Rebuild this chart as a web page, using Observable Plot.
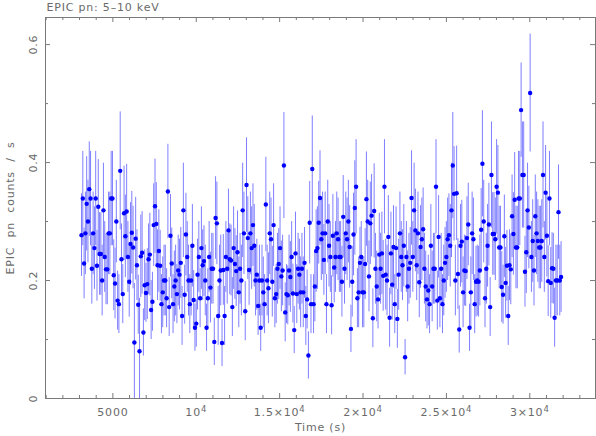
<!DOCTYPE html>
<html><head><meta charset="utf-8">
<script src="https://cdn.jsdelivr.net/npm/d3@7"></script>
<script src="https://cdn.jsdelivr.net/npm/@observablehq/plot@0.6"></script>
<style>html,body{margin:0;padding:0;background:#fff}#chart svg{display:block}</style>
</head><body><div id="chart"></div>
<script>
const titleText = "EPIC pn: 5–10 keV";
const xLabel = "Time (s)";
const yLabel = "EPIC pn counts / s";
const binStart = 3120;   // s, time of first bin
const binSize = 77.3;    // s, bin width

const rate = [
0.277,0.339,0.229,0.28,0.33,0.30,0.355,0.339,0.22,0.28,
0.255,0.339,0.225,0.325,0.245,0.245,0.20,0.319,0.24,0.219,
0.219,0.28,0.28,0.339,0.339,0.209,0.195,0.30,0.166,0.16,
0.386,0.236,0.177,0.314,0.275,0.317,0.24,0.198,0.262,0.281,
0.256,0.095,0.271,0.226,0.159,0.08,0.241,0.247,0.112,0.192,
0.179,0.194,0.236,0.244,0.15,0.164,0.294,0.326,0.296,0.226,
0.25,0.225,0.16,0.18,0.20,0.20,0.17,0.351,0.155,0.276,
0.229,0.16,0.19,0.20,0.177,0.217,0.21,0.23,0.14,0.319,
0.176,0.278,0.24,0.20,0.16,0.20,0.259,0.167,0.12,0.127,
0.21,0.24,0.17,0.255,0.226,0.233,0.20,0.12,0.17,0.24,
0.188,0.22,0.22,
0.096,0.306,0.297,0.14,0.20,0.217,0.094,0.218,0.14,0.24,
0.22,0.285,0.236,0.234,0.155,0.255,0.228,0.216,0.248,0.18,
0.22,0.20,0.319,0.28,0.148,0.362,0.272,0.218,0.28,0.255,
0.294,0.259,0.20,0.21,0.157,0.20,0.12,0.20,0.18,0.16,
0.329,0.20,0.187,0.28,0.27,0.198,0.294,0.17,0.177,0.22,
0.228,0.255,0.207,0.217,
0.395,0.146,0.177,0.175,0.217,0.206,0.24,0.178,0.116,0.246,
0.177,0.22,0.21,0.18,0.22,0.18,0.23,0.14,0.168,0.073,
0.298,0.16,0.389,0.16,0.19,0.25,0.255,0.298,0.34,0.27,
0.28,0.235,0.28,0.16,0.30,0.259,0.24,0.158,0.276,0.222,
0.24,0.28,0.27,0.24,0.24,0.198,0.308,0.22,0.28,0.27,
0.30,0.257,
0.118,0.198,0.278,0.323,0.359,0.17,0.18,0.23,0.24,0.18,
0.18,0.228,0.338,0.30,0.207,0.297,0.31,0.136,0.318,0.22,
0.19,0.168,0.244,0.22,0.246,0.208,0.359,0.21,0.20,0.274,
0.137,0.246,0.193,0.257,0.16,0.255,0.135,0.21,0.28,0.24,
0.226,0.259,0.07,0.24,0.19,0.22,0.23,0.34,0.24,0.319,
0.285,0.226,0.28,
0.197,0.257,0.27,0.287,0.22,0.19,0.168,0.183,0.16,0.259,
0.19,0.22,0.22,0.359,0.166,0.274,0.17,0.22,0.16,0.20,
0.23,0.24,0.27,0.277,0.259,0.319,0.395,0.347,0.20,0.348,
0.211,0.117,0.259,0.266,0.18,0.217,0.216,0.272,0.295,0.12,
0.18,0.28,0.27,0.16,0.198,0.20,0.198,0.217,0.286,0.398,
0.30,0.17,0.22,
0.259,0.295,0.155,0.379,0.279,0.279,0.27,0.359,0.349,0.256,
0.256,0.189,0.176,0.275,0.196,0.225,0.14,0.226,0.219,0.309,
0.279,0.337,0.256,0.256,0.339,0.339,0.489,0.379,0.379,0.215,
0.248,0.319,0.29,0.518,0.24,0.267,0.217,0.309,0.28,0.267,
0.256,0.256,0.267,0.379,0.24,0.349,0.276,0.199,0.339,0.196,
0.221,0.22,0.137,0.20,0.20,0.316,0.20,0.206
];

const rateErr = [
0.07,0.08,0.06,0.07,0.08,0.07,0.08,0.08,0.06,0.07,
0.07,0.08,0.06,0.08,0.07,0.07,0.06,0.08,0.06,0.06,
0.06,0.07,0.07,0.08,0.08,0.06,0.06,0.07,0.05,0.05,
0.10,0.06,0.05,0.08,0.07,0.08,0.06,0.06,0.07,0.07,
0.07,0.10,0.07,0.06,0.05,0.09,0.07,0.07,0.04,0.06,
0.05,0.06,0.06,0.07,0.05,0.05,0.07,0.08,0.07,0.06,
0.07,0.06,0.05,0.06,0.06,0.06,0.05,0.08,0.05,0.07,
0.06,0.05,0.06,0.06,0.05,0.06,0.06,0.06,0.05,0.08,
0.05,0.07,0.06,0.06,0.05,0.06,0.07,0.05,0.04,0.04,
0.06,0.06,0.05,0.07,0.06,0.06,0.06,0.04,0.05,0.06,
0.06,0.06,0.06,
0.04,0.07,0.07,0.05,0.06,0.06,0.04,0.06,0.05,0.06,
0.06,0.07,0.06,0.06,0.05,0.07,0.06,0.06,0.07,0.06,
0.06,0.06,0.08,0.07,0.05,0.08,0.07,0.06,0.07,0.07,
0.07,0.07,0.06,0.06,0.05,0.06,0.04,0.06,0.06,0.05,
0.08,0.06,0.06,0.07,0.07,0.06,0.07,0.05,0.05,0.06,
0.06,0.07,0.06,0.06,
0.09,0.05,0.05,0.05,0.06,0.06,0.06,0.05,0.04,0.07,
0.05,0.06,0.06,0.06,0.06,0.06,0.06,0.05,0.05,0.04,
0.07,0.05,0.09,0.05,0.06,0.07,0.07,0.07,0.08,0.07,
0.07,0.06,0.07,0.05,0.07,0.07,0.06,0.05,0.07,0.06,
0.06,0.07,0.07,0.06,0.06,0.06,0.07,0.06,0.07,0.07,
0.07,0.07,
0.04,0.06,0.07,0.08,0.08,0.05,0.06,0.06,0.06,0.06,
0.06,0.06,0.08,0.07,0.06,0.07,0.07,0.05,0.08,0.06,
0.06,0.05,0.07,0.06,0.07,0.06,0.08,0.06,0.06,0.07,
0.05,0.07,0.06,0.07,0.05,0.07,0.05,0.06,0.07,0.06,
0.06,0.07,0.03,0.06,0.06,0.06,0.06,0.08,0.06,0.08,
0.07,0.06,0.07,
0.06,0.07,0.07,0.07,0.06,0.06,0.05,0.06,0.05,0.07,
0.06,0.06,0.06,0.08,0.05,0.07,0.05,0.06,0.05,0.06,
0.06,0.06,0.07,0.07,0.07,0.08,0.09,0.08,0.06,0.08,
0.06,0.04,0.07,0.07,0.06,0.06,0.06,0.07,0.07,0.04,
0.06,0.07,0.07,0.05,0.06,0.06,0.06,0.06,0.07,0.09,
0.07,0.05,0.06,
0.07,0.07,0.05,0.09,0.07,0.07,0.07,0.08,0.08,0.07,
0.07,0.06,0.05,0.07,0.06,0.06,0.05,0.06,0.06,0.07,
0.07,0.08,0.07,0.07,0.08,0.08,0.08,0.09,0.09,0.06,
0.07,0.08,0.07,0.10,0.06,0.07,0.06,0.07,0.07,0.07,
0.07,0.07,0.07,0.09,0.06,0.08,0.07,0.06,0.08,0.06,
0.06,0.06,0.05,0.06,0.06,0.08,0.06,0.06
];

const xMajorTicks = [5000, 10000, 15000, 20000, 25000, 30000];
const xTickMantissa = ["5000", "10", "1.5×10", "2×10", "2.5×10", "3×10"];
const xTickExponent = ["", "4", "4", "4", "4", "4"];
const xMinorTicks = [1000,2000,3000,4000,6000,7000,8000,9000,11000,12000,13000,14000,16000,17000,18000,19000,21000,22000,23000,24000,26000,27000,28000,29000,31000,32000,33000];
const yMajorTicks = [0, 0.2, 0.4, 0.6];
const yTickLabels = ["0", "0.2", "0.4", "0.6"];
const yMinorTicks = [0.1, 0.3, 0.5];
const xDomain = [960, 33940];
const yDomain = [0, 0.646];

const rows = rate.map((v, i) => ({t: binStart + i * binSize, v, e: rateErr[i]}));

const W = 596, H = 436, mL = 45, mR = 1, mT = 17, mB = 38;
const iW = W - mL - mR, iH = H - mT - mB;
const axisColor = "#7a7a7a";
const textColor = "#6a6a6a";
const majorLen = 5, minorLen = 3;

const chart = Plot.plot({
  width: W, height: H,
  marginLeft: mL, marginRight: mR, marginTop: mT, marginBottom: mB,
  x: {domain: xDomain, axis: null},
  y: {domain: yDomain, axis: null},
  style: {fontFamily: "DejaVu Sans", fontSize: "11px", color: textColor, background: "#fff", overflow: "visible", letterSpacing: "0.8px"},
  marks: [
    Plot.ruleX(rows, {x: "t", y1: d => d.v - d.e, y2: d => d.v + d.e, stroke: "#7f7fff", strokeWidth: 1, clip: true}),
    Plot.dot(rows, {x: "t", y: "v", r: 2.2, fill: "#0000ff", stroke: null, clip: true}),
    Plot.frame({stroke: axisColor}),
    Plot.tickX(xMajorTicks, {x: d => d, insetTop: iH - majorLen, stroke: axisColor}),
    Plot.tickX(xMajorTicks, {x: d => d, insetBottom: iH - majorLen, stroke: axisColor}),
    Plot.tickX(xMinorTicks, {x: d => d, insetTop: iH - minorLen, stroke: axisColor}),
    Plot.tickX(xMinorTicks, {x: d => d, insetBottom: iH - minorLen, stroke: axisColor}),
    Plot.tickY(yMajorTicks, {y: d => d, insetRight: iW - majorLen, stroke: axisColor}),
    Plot.tickY(yMajorTicks, {y: d => d, insetLeft: iW - majorLen, stroke: axisColor}),
    Plot.tickY(yMinorTicks, {y: d => d, insetRight: iW - minorLen, stroke: axisColor}),
    Plot.tickY(yMinorTicks, {y: d => d, insetLeft: iW - minorLen, stroke: axisColor}),
    Plot.text(xMajorTicks, {x: d => d, text: (d, i) => xTickMantissa[i] + (xTickExponent[i] ? "^" + xTickExponent[i] : ""), frameAnchor: "bottom", dy: 14, lineAnchor: "middle", fill: textColor, className: "xticklabel"}),
    Plot.text(yMajorTicks, {y: d => d, text: (d, i) => yTickLabels[i], frameAnchor: "left", dx: -12, rotate: -90, textAnchor: "middle", lineAnchor: "middle", fill: textColor}),
    Plot.text([xLabel], {text: d => d, frameAnchor: "bottom", dy: 29, lineAnchor: "middle", fill: textColor}),
    Plot.text([yLabel], {text: d => d, frameAnchor: "left", dx: -35, rotate: -90, textAnchor: "middle", lineAnchor: "middle", fill: textColor, className: "ylabel"}),
    Plot.text([titleText], {text: d => d, frameAnchor: "top-left", dx: 1, dy: -10, textAnchor: "start", lineAnchor: "middle", fill: textColor})
  ]
});

// render "10^4" style labels with a real superscript
d3.select(chart).selectAll("g.xticklabel text").each(function () {
  const s = this.textContent;
  const k = s.indexOf("^");
  if (k < 0) return;
  const base = s.slice(0, k), exp = s.slice(k + 1);
  const t = d3.select(this);
  t.text(null);
  t.append("tspan").text(base);
  t.append("tspan").attr("dy", "-0.45em").attr("font-size", "8.5px").text(exp);
});
d3.select(chart).selectAll("g.ylabel text").style("word-spacing", "5px");

document.getElementById("chart").append(chart);
</script>
</body></html>
